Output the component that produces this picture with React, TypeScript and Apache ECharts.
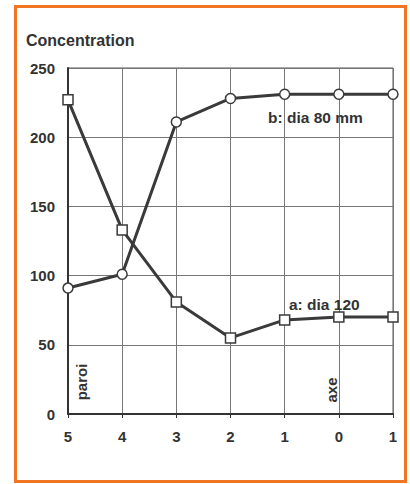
import React, { useEffect, useRef } from "react";
import * as echarts from "echarts";

const categories = ["5", "4", "3", "2", "1", "0", "1"];
const seriesA = [227, 133, 81, 55, 68, 70, 70];
const seriesB = [91, 101, 211, 228, 231, 231, 231];
const yTicks = { min: 0, max: 250, interval: 50 };

export default function App() {
  const ref = useRef<HTMLDivElement>(null);
  useEffect(() => {
    document.body.style.margin = "0";
    const chart = echarts.init(ref.current!, null, { renderer: "svg" });
    const dark = "#3a3a3a";
    const font = "Arial, 'Liberation Sans', sans-serif";
    chart.setOption({
      animation: false,
      backgroundColor: "#ffffff",
      grid: { left: 68, right: 17, top: 68, bottom: 70, show: true, borderColor: "#555", borderWidth: 1 },
      xAxis: {
        type: "category",
        data: categories,
        boundaryGap: false,
        axisLine: { lineStyle: { color: "#333", width: 2 } },
        axisTick: { show: true, length: 4, lineStyle: { color: "#333" } },
        axisLabel: { color: "#333", fontWeight: "bold", fontSize: 15, fontFamily: font, margin: 15 },
        splitLine: { show: true, lineStyle: { color: "#777", width: 1 } },
      },
      yAxis: {
        type: "value",
        min: yTicks.min,
        max: yTicks.max,
        interval: yTicks.interval,
        axisLine: { show: true, lineStyle: { color: "#333", width: 2 } },
        axisTick: { show: false },
        axisLabel: { color: "#333", fontWeight: "bold", fontSize: 15, fontFamily: font, margin: 13 },
        splitLine: { show: true, lineStyle: { color: "#777", width: 1 } },
      },
      series: [
        {
          type: "line",
          data: seriesA,
          symbol: "rect",
          symbolSize: 10,
          lineStyle: { color: dark, width: 3 },
          itemStyle: { color: "#fff", borderColor: dark, borderWidth: 1.5 },
          z: 3,
        },
        {
          type: "line",
          data: seriesB,
          symbol: "circle",
          symbolSize: 10,
          lineStyle: { color: dark, width: 3 },
          itemStyle: { color: "#fff", borderColor: dark, borderWidth: 1.5 },
          z: 3,
        },
      ],
      graphic: [
        {
          type: "rect",
          shape: { x: 15.5, y: 6.5, width: 390, height: 475 },
          style: { fill: "none", stroke: "#f07525", lineWidth: 3 },
          silent: true,
        },
        {
          type: "text",
          x: 26,
          y: 40,
          style: { text: "Concentration", fill: "#333", font: `bold 16px ${font}`, verticalAlign: "middle" },
        },
        {
          type: "text",
          x: 268,
          y: 117,
          style: { text: "b: dia 80 mm", fill: "#333", font: `bold 15.5px ${font}`, verticalAlign: "middle" },
          z: 10,
        },
        {
          type: "text",
          x: 289,
          y: 304,
          style: { text: "a: dia 120", fill: "#333", font: `bold 15.5px ${font}`, verticalAlign: "middle" },
          z: 10,
        },
        {
          type: "text",
          x: 81,
          y: 382,
          rotation: Math.PI / 2,
          style: { text: "paroi", fill: "#333", font: `bold 15px ${font}`, align: "center", verticalAlign: "middle" },
          z: 10,
        },
        {
          type: "text",
          x: 331,
          y: 390,
          rotation: Math.PI / 2,
          style: { text: "axe", fill: "#333", font: `bold 15px ${font}`, align: "center", verticalAlign: "middle" },
          z: 10,
        },
      ],
    });
    return () => chart.dispose();
  }, []);
  return <div ref={ref} style={{ width: 410, height: 484, position: "absolute", left: 0, top: 0 }} />;
}
